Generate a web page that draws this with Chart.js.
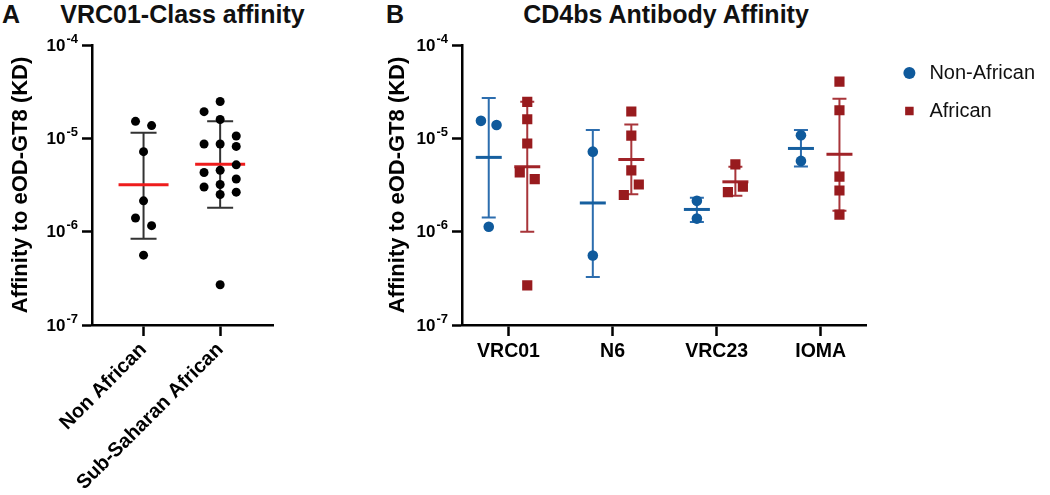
<!DOCTYPE html>
<html>
<head>
<meta charset="utf-8">
<script src="https://cdn.jsdelivr.net/npm/chart.js@4/dist/chart.umd.min.js"></script>
<style>
  body { margin: 0; background: #fff; }
  #wrap { position: relative; width: 1050px; height: 495px; font-family: "Liberation Sans", Arial, sans-serif; }
  #wrap canvas { position: absolute; top: 0; }
  .tag, .title { position: absolute; top: 2px; font-weight: bold; font-size: 25px; line-height: 25px; color: #111; }
  .title { text-align: center; }
</style>
</head>
<body>
<div id="wrap">
  <div class="tag" style="left:2px">A</div>
  <div class="title" style="left:0;width:365px">VRC01-Class affinity</div>
  <div class="tag" style="left:386px">B</div>
  <div class="title" style="left:466px;width:400px">CD4bs Antibody Affinity</div>
  <canvas id="chartA" width="330" height="495" style="left:0"></canvas>
  <canvas id="chartB" width="680" height="495" style="left:370px"></canvas>
</div>
<script>
// panel A: VRC01-class antibodies, KD against eOD-GT8
const groupsA = ['Non African', 'Sub-Saharan African'];
const nonAfricanA = [1.52e-5, 1.37e-5, 7.2e-6, 2.14e-6, 1.40e-6, 1.16e-6, 5.6e-7];
const subSaharanA = [2.48e-5, 1.93e-5, 1.59e-5, 1.06e-5, 8.7e-6, 8.7e-6, 8.2e-6, 5.2e-6,
  4.31e-6, 4.55e-6, 3.67e-6, 3.01e-6, 3.20e-6, 2.50e-6, 2.65e-6, 2.70e-7];
// scatter column of each dot (-1 left, 0 middle, 1 right)
const nonAfricanColA = [-1, 1, 0, 0, -1, 1, 0];
const subSaharanColA = [0, -1, 0, 1, -1, 0, 1, 1, -1, 0, 1, -1, 0, 0, 1, 0];
const meanA = [3.18e-6, 5.26e-6];
const sdLowA = [8.4e-7, 1.80e-6];
const sdHighA = [1.15e-5, 1.52e-5];

// panel B: CD4bs antibodies
const groupsB = ['VRC01', 'N6', 'VRC23', 'IOMA'];
const nonAfricanB = [[1.54e-5, 1.39e-5, 1.13e-6], [7.2e-6, 5.56e-7], [2.14e-6, 1.38e-6], [1.08e-5, 5.73e-6]];
const africanB = [[2.46e-5, 1.60e-5, 8.8e-6, 4.31e-6, 3.66e-6, 2.66e-7], [1.94e-5, 1.07e-5, 4.54e-6, 3.20e-6, 2.47e-6],
  [5.26e-6, 3.04e-6, 2.65e-6], [4.05e-5, 2.00e-5, 3.89e-6, 2.76e-6, 1.52e-6]];
const nonAfricanColB = [[-1, 1, 0], [0, 0], [0, 0], [0, 0]];
const africanColB = [[0, 0, 0, -1, 1, 0], [0, 0, 0, 1, -1], [0, 1, -1], [0, 0, 0, 0, 0]];
const nonAfricanMeanB = [6.25e-6, 2.03e-6, 1.73e-6, 7.79e-6];
const nonAfricanLowB = [1.42e-6, 3.27e-7, 1.27e-6, 4.99e-6];
const nonAfricanHighB = [2.70e-5, 1.23e-5, 2.31e-6, 1.23e-5];
const africanMeanB = [4.96e-6, 5.93e-6, 3.42e-6, 6.75e-6];
const africanLowB = [9.98e-7, 2.51e-6, 2.43e-6, 1.68e-6];
const africanHighB = [2.46e-5, 1.41e-5, 4.96e-6, 2.66e-5];

const decades = [1e-7, 1e-6, 1e-5, 1e-4];

const FONT = '"Liberation Sans", Arial, sans-serif';
Chart.defaults.font.family = FONT;
Chart.defaults.color = '#000';
Chart.defaults.animation = false;

// mean line + SD whiskers drawn under the dots
const meanSd = {
  id: 'meanSd',
  beforeDatasetsDraw(chart, args, opts) {
    const { ctx, scales: { x, y } } = chart;
    ctx.save();
    opts.series.forEach(s => {
      s.mean.forEach((m, i) => {
        const px = x.getPixelForValue(i + s.offset);
        const top = y.getPixelForValue(s.high[i]);
        const bot = y.getPixelForValue(s.low[i]);
        ctx.strokeStyle = s.barColor;
        ctx.lineWidth = 2;
        ctx.beginPath();
        ctx.moveTo(px, top); ctx.lineTo(px, bot);
        ctx.moveTo(px - s.cap, top); ctx.lineTo(px + s.cap, top);
        ctx.moveTo(px - s.cap, bot); ctx.lineTo(px + s.cap, bot);
        ctx.stroke();
        const pm = y.getPixelForValue(m);
        ctx.strokeStyle = s.meanColor;
        ctx.lineWidth = 3;
        ctx.beginPath();
        ctx.moveTo(px - s.half, pm); ctx.lineTo(px + s.half, pm);
        ctx.stroke();
      });
    });
    ctx.restore();
  }
};

// "10" with a raised exponent, one per log tick
const powerTicks = {
  id: 'powerTicks',
  afterDraw(chart) {
    const { ctx, scales: { y } } = chart;
    const right = y.right - 14;
    ctx.save();
    ctx.fillStyle = '#000';
    ctx.textAlign = 'right';
    ctx.textBaseline = 'middle';
    y.ticks.forEach(t => {
      const py = y.getPixelForValue(t.value);
      const exp = String(Math.round(Math.log10(t.value)));
      ctx.font = 'bold 13px ' + FONT;
      const w = ctx.measureText(exp).width + 1;
      ctx.fillText(exp, right, py - 6);
      ctx.font = 'bold 17px ' + FONT;
      ctx.fillText('10', right - w, py + 1);
    });
    ctx.restore();
  }
};

// push the legend a little further from the plot
const legendNudge = {
  id: 'legendNudge',
  afterLayout(chart, args, opts) {
    if (!chart.legend) return;
    chart.legend.left += opts.dx;
    chart.legend.right += opts.dx;
  }
};

const axisLine = { display: true, color: '#000', width: 2.5 };
const tickMarks = len => ({ display: true, drawOnChartArea: false, drawTicks: true, tickLength: len, tickColor: '#000', tickWidth: 2.5 });

const yAxis = titlePad => ({
  type: 'logarithmic',
  min: 1e-7,
  max: 1e-4,
  border: axisLine,
  grid: tickMarks(10),
  afterBuildTicks: s => { s.ticks = decades.map(v => ({ value: v, major: true })); },
  afterFit: s => { s.width = 92; s.paddingTop = 12; s.paddingBottom = 0; },
  ticks: { display: false },
  title: { display: true, text: 'Affinity to eOD-GT8 (KD)', font: { size: 22, weight: 'bold' }, padding: { top: titlePad, bottom: 0 } }
});

const dots = (values, cols, group, spread) =>
  values.map((v, i) => ({ x: group + cols[i] * spread, y: v }));

new Chart(document.getElementById('chartA'), {
  type: 'scatter',
  data: {
    datasets: [{
      label: 'VRC01-class',
      data: [...dots(nonAfricanA, nonAfricanColA, 0, 0.105), ...dots(subSaharanA, subSaharanColA, 1, 0.21)],
      backgroundColor: '#000',
      pointRadius: 4.5,
      pointBorderWidth: 0
    }]
  },
  options: {
    responsive: false,
    layout: { padding: { top: 45, right: 57, bottom: 0, left: 0 } },
    plugins: {
      legend: { display: false },
      tooltip: { enabled: false },
      meanSd: { series: [{ mean: meanA, low: sdLowA, high: sdHighA, offset: 0, barColor: '#333', meanColor: '#EE1C1C', cap: 13, half: 25 }] }
    },
    scales: {
      x: {
        type: 'linear',
        min: -0.673,
        max: 1.69,
        border: axisLine,
        grid: tickMarks(11),
        afterBuildTicks: s => { s.ticks = groupsA.map((g, i) => ({ value: i })); },
        afterFit: s => { s.height = 170; s.paddingLeft = 0; s.paddingRight = 0; },
        ticks: { font: { size: 20, weight: 'bold' }, minRotation: 45, maxRotation: 45, padding: 2, callback: v => groupsA[v] }
      },
      y: yAxis(8)
    }
  },
  plugins: [meanSd, powerTicks]
});

const flat = (sets, cols, offset, spread) =>
  sets.flatMap((vals, g) => dots(vals, cols[g], g + offset, spread));

new Chart(document.getElementById('chartB'), {
  type: 'scatter',
  data: {
    datasets: [{
      label: 'Non-African',
      data: flat(nonAfricanB, nonAfricanColB, -0.19, 0.075),
      backgroundColor: '#0F5A9C',
      pointStyle: 'circle',
      pointRadius: 5.3,
      pointBorderWidth: 0
    }, {
      label: 'African',
      data: flat(africanB, africanColB, 0.18, 0.072),
      backgroundColor: '#981B1E',
      pointStyle: 'rect',
      pointRadius: 7.2,
      pointBorderWidth: 0
    }]
  },
  options: {
    responsive: false,
    layout: { padding: { top: 45, right: 20, bottom: 0, left: 0 } },
    plugins: {
      tooltip: { enabled: false },
      legend: {
        position: 'right',
        align: 'start',
        labels: { usePointStyle: true, boxHeight: 8.5, padding: 18, color: '#111', font: { size: 20 } }
      },
      legendNudge: { dx: 15 },
      meanSd: { series: [
        { mean: nonAfricanMeanB, low: nonAfricanLowB, high: nonAfricanHighB, offset: -0.19, barColor: '#2C6DAE', meanColor: '#165F9F', cap: 7, half: 13 },
        { mean: africanMeanB, low: africanLowB, high: africanHighB, offset: 0.18, barColor: '#A8353A', meanColor: '#A02328', cap: 7, half: 13 }
      ] }
    },
    scales: {
      x: {
        type: 'linear',
        min: -0.447,
        max: 3.439,
        border: axisLine,
        grid: tickMarks(11),
        afterBuildTicks: s => { s.ticks = groupsB.map((g, i) => ({ value: i })); },
        afterFit: s => { s.height = 170; s.paddingLeft = 0; s.paddingRight = 0; },
        ticks: { font: { size: 19.5, weight: 'bold' }, maxRotation: 0, padding: 4, callback: v => groupsB[v] }
      },
      y: yAxis(15)
    }
  },
  plugins: [meanSd, powerTicks, legendNudge]
});
</script>
</body>
</html>
